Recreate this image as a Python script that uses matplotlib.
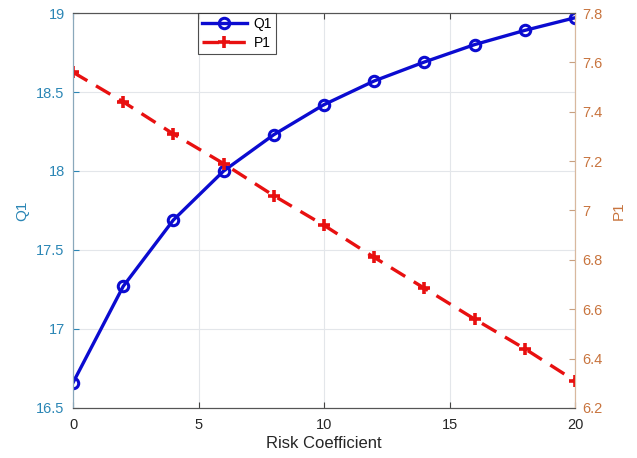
import matplotlib
matplotlib.use("Agg")
import matplotlib.pyplot as plt

plt.rcParams['font.family'] = ['Liberation Sans', 'DejaVu Sans']

risk = [0, 2, 4, 6, 8, 10, 12, 14, 16, 18, 20]
q1 = [16.66, 17.27, 17.69, 18.00, 18.23, 18.42, 18.57, 18.69, 18.80, 18.89, 18.97]
p1 = [7.56, 7.44, 7.31, 7.19, 7.06, 6.94, 6.81, 6.685, 6.56, 6.44, 6.31]

left_color = '#2b86b5'
right_color = '#c8743e'

fig = plt.figure(figsize=(6.37, 4.58), dpi=100)
ax1 = fig.add_axes([0.1146, 0.1092, 0.7881, 0.8624])
ax2 = ax1.twinx()

l1, = ax1.plot(risk, q1, '-o', color='#0b0bd0', lw=2.4, ms=7.5,
               mfc='none', mew=2.2, label='Q1')
l2, = ax2.plot(risk, p1, '--', color='#e81010', lw=2.4,
               dashes=(5, 3), label='P1')
l2.set_marker('+')
l2.set_markersize(8)
l2.set_markeredgewidth(2.6)

ax1.set_xlim(0, 20)
ax1.set_ylim(16.5, 19)
ax2.set_ylim(6.2, 7.8)
ax1.set_xticks([0, 5, 10, 15, 20])
ax1.set_yticks([16.5, 17, 17.5, 18, 18.5, 19])
ax1.set_yticklabels(['16.5', '17', '17.5', '18', '18.5', '19'])
ax2.set_yticks([6.2, 6.4, 6.6, 6.8, 7.0, 7.2, 7.4, 7.6, 7.8])
ax2.set_yticklabels(['6.2', '6.4', '6.6', '6.8', '7', '7.2', '7.4', '7.6', '7.8'])

ax1.grid(True, color='#e3e6ea', lw=0.8)
ax1.set_axisbelow(True)

ax1.tick_params(axis='x', direction='in', top=True, colors='#444444',
                labelsize=10.5, length=4, labelcolor='#262626', pad=7)
ax1.tick_params(axis='y', direction='in', colors=left_color, labelsize=10.5,
                length=4, labelcolor=left_color, pad=6)
ax2.tick_params(axis='y', direction='in', colors='#c8a080', labelsize=10.5,
                length=4, labelcolor=right_color, pad=5)

for ax in (ax1, ax2):
    ax.spines['top'].set_color('#555555')
    ax.spines['bottom'].set_color('#555555')
    ax.spines['left'].set_color('#8aa8bb')
    ax.spines['right'].set_color('#d8b89e')

ax1.set_xlabel('Risk Coefficient', fontsize=12, color='#262626', labelpad=3)
ax1.set_ylabel('Q1', fontsize=11, color=left_color, labelpad=5)
ax2.set_ylabel('P1', fontsize=11, color=right_color, labelpad=7)

leg = ax2.legend(handles=[l1, l2], loc='upper left',
                 bbox_to_anchor=(0.249, 1.0), fontsize=10,
                 frameon=True, fancybox=False, edgecolor='#222222',
                 borderpad=0.3, handlelength=3.2, labelspacing=0.35,
                 handletextpad=0.5, borderaxespad=0)
leg.get_frame().set_linewidth(0.8)

fig.savefig('out.png', dpi=100)
